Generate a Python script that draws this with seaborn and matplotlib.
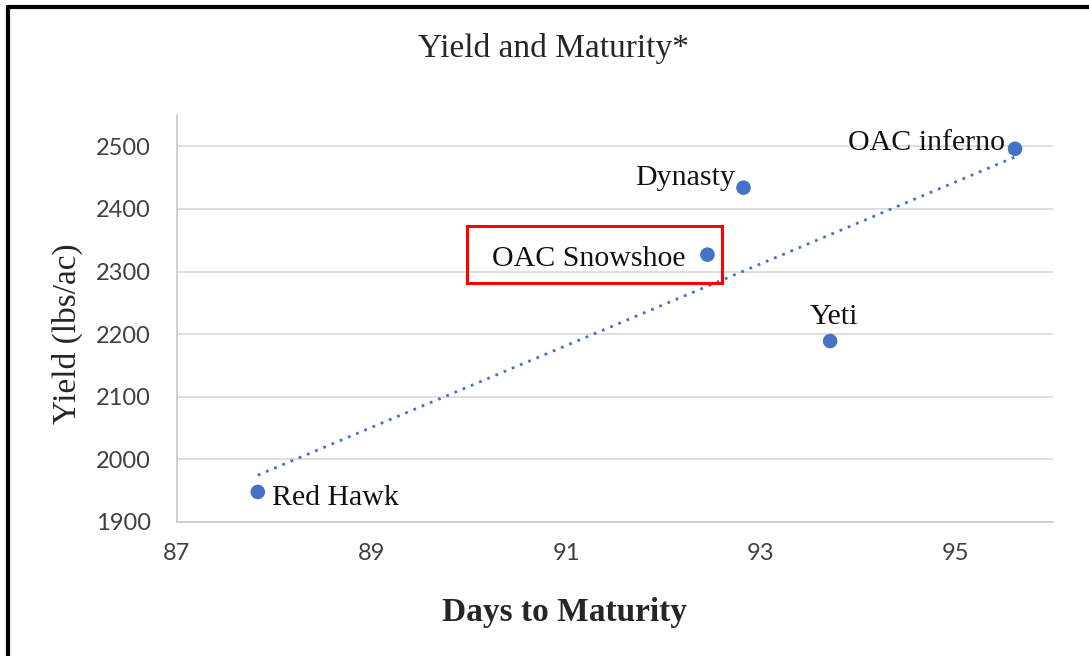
import numpy as np
import pandas as pd
import seaborn as sns
import matplotlib.pyplot as plt
from matplotlib.patches import Rectangle
from matplotlib.lines import Line2D

# ------------------------------
# DATA
# ------------------------------

varieties = ["Red Hawk", "OAC Snowshoe", "Dynasty", "Yeti", "OAC inferno"]
days = [87.83, 92.45, 92.82, 93.71, 95.61]
yields = [1948, 2327, 2434, 2189, 2496]

x_ticks = [87, 89, 91, 93, 95]
y_ticks = [1900, 2000, 2100, 2200, 2300, 2400, 2500]

df = pd.DataFrame({"Variety": varieties, "Days": days, "Yield": yields})

# ------------------------------
# STYLE
# ------------------------------

sns.set_style("white")
plt.rcParams["font.family"] = ["Liberation Serif", "DejaVu Serif"]

blue = "#4472C4"
tick_font = ["Lato", "DejaVu Sans"]

fig = plt.figure(figsize=(10.89, 6.56), dpi=100)
ax = fig.add_axes([177 / 1089, 134 / 656, 876 / 1089, 407 / 656])

# trendline (linear fit over the data range)
sns.regplot(data=df, x="Days", y="Yield", ax=ax, scatter=False, ci=None,
            truncate=True,
            line_kws={"color": blue, "linestyle": (0, (1, 2.2)), "linewidth": 2})

sns.scatterplot(data=df, x="Days", y="Yield", ax=ax, color=blue, s=110,
                edgecolor="none", zorder=3)

# ------------------------------
# AXES
# ------------------------------

ax.set_xlim(87, 96)
ax.set_ylim(1900, 2550)
ax.set_xticks(x_ticks)
ax.set_yticks(y_ticks)
ax.yaxis.grid(True, color="#d9d9d9", linewidth=1.2)
ax.set_axisbelow(True)

for side in ["top", "right"]:
    ax.spines[side].set_visible(False)
for side in ["left", "bottom"]:
    ax.spines[side].set_color("#c8c8c8")
    ax.spines[side].set_linewidth(1.2)

ax.tick_params(axis="both", length=0, labelsize=17, labelcolor="#404040")
ax.tick_params(axis="x", pad=15)
ax.tick_params(axis="y", pad=19)
for lab in ax.get_xticklabels() + ax.get_yticklabels():
    lab.set_family(tick_font)

ax.set_xlabel("Days to Maturity", fontsize=24, fontweight="bold")
ax.set_ylabel("Yield (lbs/ac)", fontsize=24)
ax.xaxis.set_label_coords((565 - 177) / 876, -(612 - 522) / 407)
ax.yaxis.set_label_coords(-(177 - 67) / 876, (522 - 334) / 407)
ax.xaxis.label.set_va("center")
ax.yaxis.label.set_va("center")

fig.text(553 / 1089, 1 - 48 / 656, "Yield and Maturity*", fontsize=24,
         ha="center", va="center")

# ------------------------------
# DATA LABELS
# ------------------------------

offsets = {
    "Red Hawk": ((10, -4), "left", "center"),
    "OAC Snowshoe": ((-16, -3), "right", "center"),
    "Dynasty": ((-6, 7), "right", "center"),
    "Yeti": ((3, 17), "center", "center"),
    "OAC inferno": ((-7, 4), "right", "center"),
}
for name, x, y in zip(varieties, days, yields):
    off, ha, va = offsets[name]
    ax.annotate(name, (x, y), xytext=off, textcoords="offset points",
                ha=ha, va=va, fontsize=21.5, color="#111111")

# highlight box around OAC Snowshoe
ax.add_patch(Rectangle((89.98, 2281), 2.62, 91, fill=False,
                       edgecolor="#ff0000", linewidth=2.2, zorder=4))

# outer frame (left and top edges)
fig.add_artist(Line2D([8 / 1089, 8 / 1089], [0, 1 - 7 / 656],
                      transform=fig.transFigure, color="black", linewidth=3))
fig.add_artist(Line2D([8 / 1089, 1], [1 - 7 / 656, 1 - 7 / 656],
                      transform=fig.transFigure, color="black", linewidth=3))

plt.savefig("out.png", dpi=100)
